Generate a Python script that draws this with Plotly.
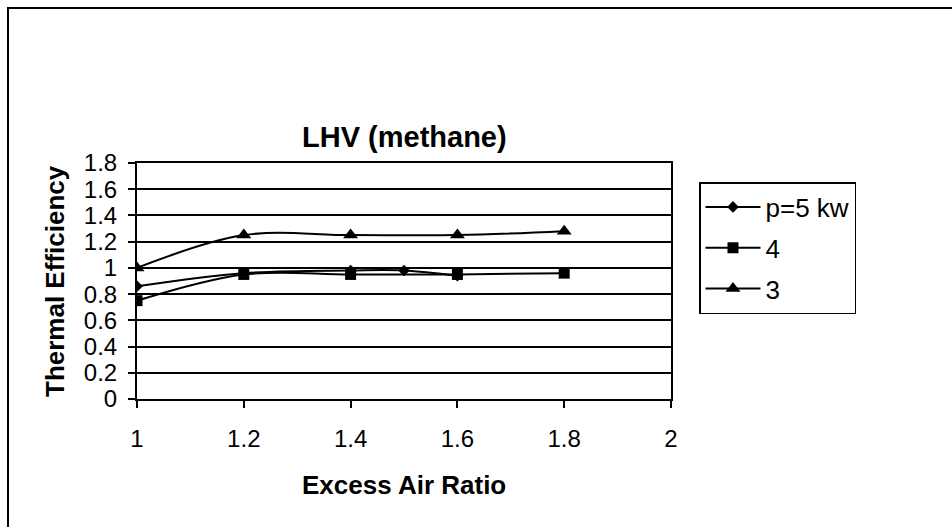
import plotly.graph_objects as go

# Thermal efficiency (LHV, methane) vs excess air ratio for three burner powers
series_names = ["p=5 kw", "4", "3"]

x_p5 = [1.0, 1.2, 1.4, 1.5, 1.6]
y_p5 = [0.86, 0.96, 0.98, 0.98, 0.94]

x_p4 = [1.0, 1.2, 1.4, 1.6, 1.8]
y_p4 = [0.75, 0.95, 0.95, 0.95, 0.96]

x_p3 = [1.0, 1.2, 1.4, 1.6, 1.8]
y_p3 = [1.00, 1.25, 1.25, 1.25, 1.28]

x_ticks = [1, 1.2, 1.4, 1.6, 1.8, 2]
y_ticks = [0, 0.2, 0.4, 0.6, 0.8, 1, 1.2, 1.4, 1.6, 1.8]

FONT = "Liberation Sans, Arial, sans-serif"
INK = "#000000"

symbols = ["diamond", "square", "triangle-up"]
sizes = [9, 11, 13]

fig = go.Figure()
for i, (name, xs, ys) in enumerate(zip(series_names,
                                       [x_p5, x_p4, x_p3],
                                       [y_p5, y_p4, y_p3])):
    fig.add_trace(go.Scatter(
        x=xs, y=ys, name=name, mode="lines+markers",
        line=dict(color=INK, width=2, shape="spline", smoothing=1),
        marker=dict(symbol=symbols[i], size=sizes[i], color=INK),
        legendgroup=f"g{i}",
    ))

L, R, T, B = 137, 671, 163, 399
W, H = 952, 527
pw, ph = R - L, B - T


def px_to_paper_x(px):
    return (px - L) / pw


def px_to_paper_y(py):
    return (B - py) / ph


fig.update_layout(
    width=W, height=H,
    margin=dict(l=L, r=W - R, t=T, b=H - B, pad=0),
    paper_bgcolor="white", plot_bgcolor="white",
    font=dict(family=FONT, size=24, color=INK),
    showlegend=True,
    legend=dict(
        x=px_to_paper_x(699), y=px_to_paper_y(182),
        xanchor="left", yanchor="top",
        bordercolor=INK, borderwidth=1.5, bgcolor="white",
        font=dict(family=FONT, size=26, color=INK),
        tracegroupgap=4,
        itemwidth=55,
    ),
    xaxis=dict(
        range=[1, 2], tickvals=x_ticks, ticktext=[f"{v:g}" for v in x_ticks],
        showgrid=False, zeroline=False,
        showline=True, linecolor=INK, linewidth=2, mirror=True,
        ticks="outside", ticklen=7, tickwidth=2, tickcolor=INK,
        ticklabelstandoff=10,
        tickfont=dict(family=FONT, size=24, color=INK),
    ),
    yaxis=dict(
        range=[0, 1.8], tickvals=y_ticks, ticktext=[f"{v:g}" for v in y_ticks],
        showgrid=True, gridcolor=INK, gridwidth=2, zeroline=False,
        showline=True, linecolor=INK, linewidth=2, mirror=True,
        ticks="outside", ticklen=7, tickwidth=2, tickcolor=INK,
        ticklabelstandoff=6,
        tickfont=dict(family=FONT, size=24, color=INK),
    ),
    annotations=[
        dict(text="<b>LHV (methane)</b>", xref="paper", yref="paper",
             x=0.5, y=px_to_paper_y(137), xanchor="center", yanchor="middle",
             showarrow=False, font=dict(family=FONT, size=29, color=INK)),
        dict(text="<b>Excess Air Ratio</b>", xref="paper", yref="paper",
             x=0.5, y=px_to_paper_y(485), xanchor="center", yanchor="middle",
             showarrow=False, font=dict(family=FONT, size=26, color=INK)),
        dict(text="<b>Thermal Efficiency</b>", xref="paper", yref="paper",
             x=px_to_paper_x(55), y=px_to_paper_y(281), xanchor="center",
             yanchor="middle", textangle=-90,
             showarrow=False, font=dict(family=FONT, size=26, color=INK)),
    ],
    shapes=[
        # outer chart frame (left and top edges visible)
        dict(type="rect", xref="paper", yref="paper", layer="below",
             x0=px_to_paper_x(8), x1=px_to_paper_x(1000),
             y0=px_to_paper_y(600), y1=px_to_paper_y(8),
             line=dict(color=INK, width=2), fillcolor="rgba(0,0,0,0)"),
    ],
)

fig.write_html("out.html")
